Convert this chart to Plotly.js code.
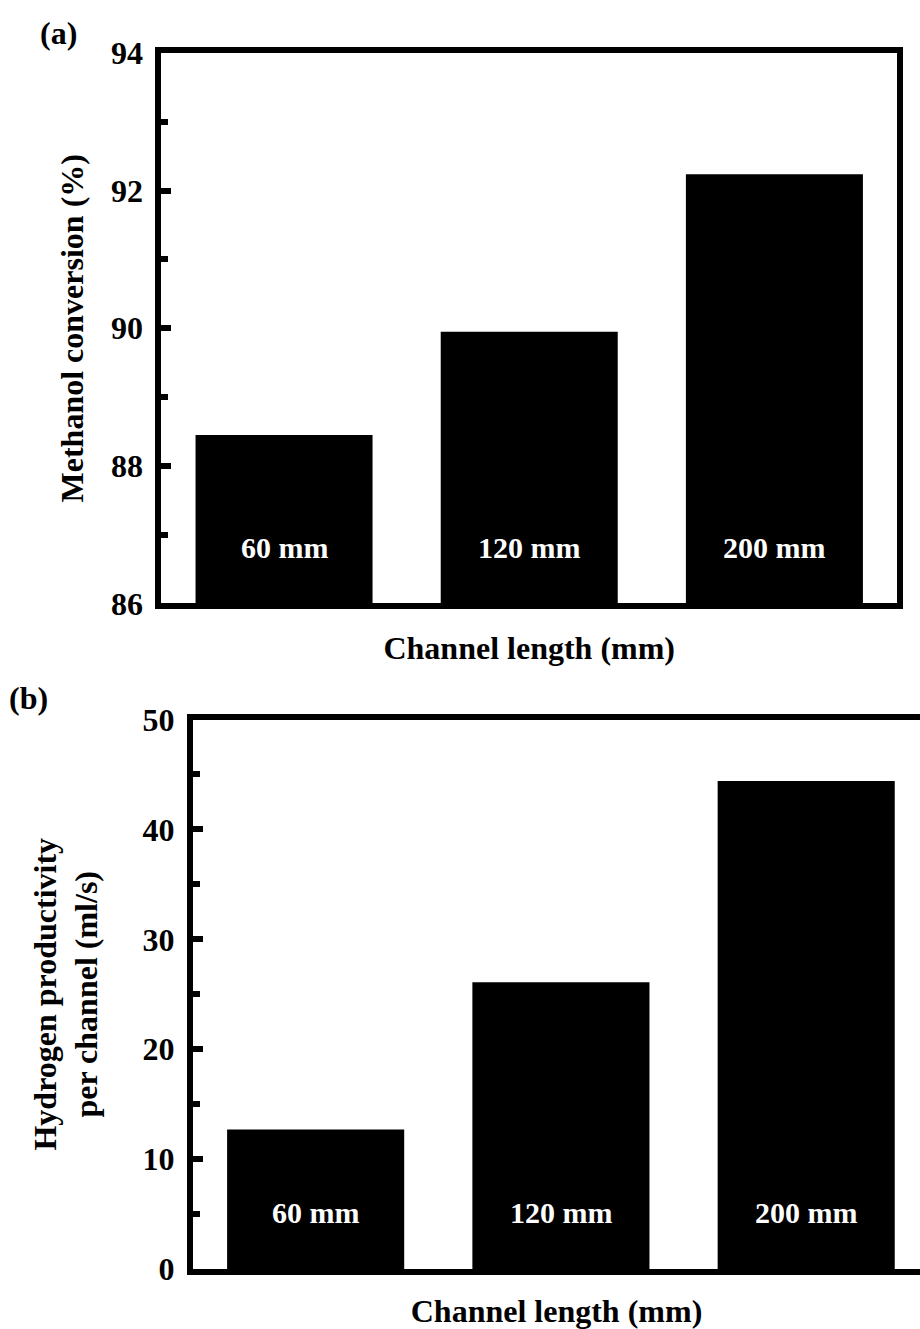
<!DOCTYPE html>
<html>
<head>
<meta charset="utf-8">
<script src="https://cdn.plot.ly/plotly-3.0.1.min.js"></script>
<style>html,body{margin:0;padding:0;background:#fff;overflow:hidden}</style>
</head>
<body>
<div id="chart" style="width:920px;height:1329px"></div>
<script>
// ---- data ----
const channelLengths = ['60 mm', '120 mm', '200 mm'];
const methanolConversion = [88.45, 89.95, 92.24];   // %
const hydrogenProductivity = [12.7, 26.1, 44.4];     // ml/s per channel
const panelLabels = ['(a)', '(b)'];
const xTitle = 'Channel length (mm)';
const yTitleA = 'Methanol conversion (%)';
const yTitleB = 'Hydrogen productivity<br>per channel (ml/s)';

const FONT = 'Liberation Serif, Times New Roman, serif';
const LW = 6;

const traces = [
  {type: 'bar', x: channelLengths, y: methanolConversion, xaxis: 'x', yaxis: 'y',
   marker: {color: '#000', line: {width: 0}}, hoverinfo: 'none', showlegend: false},
  {type: 'bar', x: channelLengths, y: hydrogenProductivity, xaxis: 'x2', yaxis: 'y2',
   marker: {color: '#000', line: {width: 0}}, hoverinfo: 'none', showlegend: false}
];

const tickFont = {family: FONT, size: 32, color: '#000', weight: 'bold'};
const titleFont = {family: FONT, size: 32, color: '#000', weight: 'bold'};

const xBase = {
  type: 'category', showline: true, linecolor: '#000', linewidth: LW, mirror: true,
  showticklabels: false, ticks: '', showgrid: false, zeroline: false, fixedrange: true
};
const yBase = {
  showline: true, linecolor: '#000', linewidth: LW, ticks: 'inside', ticklen: 10,
  tickwidth: LW, tickcolor: '#000', showgrid: false, zeroline: false,
  tickfont: tickFont, ticklabelstandoff: 6, fixedrange: true
};

const annotations = [];
channelLengths.forEach((c) => {
  annotations.push({xref: 'x', yref: 'y domain', x: c, y: 0.101, text: c, showarrow: false,
    font: {family: FONT, size: 30, color: '#fff', weight: 'bold'}, yanchor: 'middle'});
  annotations.push({xref: 'x2', yref: 'y2 domain', x: c, y: 0.103, text: c, showarrow: false,
    font: {family: FONT, size: 30, color: '#fff', weight: 'bold'}, yanchor: 'middle'});
});
annotations.push({xref: 'paper', yref: 'paper', x: 0.0641, y: 0.9752, text: panelLabels[0],
  showarrow: false, font: titleFont, xanchor: 'center', yanchor: 'middle'});
annotations.push({xref: 'paper', yref: 'paper', x: 0.0315, y: 0.4748, text: panelLabels[1],
  showarrow: false, font: titleFont, xanchor: 'center', yanchor: 'middle'});

const layout = {
  width: 920, height: 1329,
  margin: {l: 0, r: 0, t: 0, b: 0},
  paper_bgcolor: '#fff', plot_bgcolor: '#fff',
  bargap: 0.278,
  font: {family: FONT, color: '#000'},
  xaxis: Object.assign({}, xBase, {domain: [0.1755, 0.975], range: [-0.5, 2.5], anchor: 'y',
    title: {text: xTitle, font: titleFont, standoff: 30}}),
  yaxis: Object.assign({}, yBase, {domain: [0.5459, 0.9601], range: [86, 94], dtick: 2,
    mirror: true, anchor: 'x',
    minor: {ticks: 'inside', ticklen: 7, tickwidth: LW, tickcolor: '#000', dtick: 1, showgrid: false},
    title: {text: yTitleA, font: titleFont, standoff: 20}}),
  xaxis2: Object.assign({}, xBase, {domain: [0.2098, 1], range: [-0.5, 2.464], anchor: 'y2',
    title: {text: xTitle, font: titleFont, standoff: 28}}),
  yaxis2: Object.assign({}, yBase, {domain: [0.04515, 0.4586], range: [0, 50], dtick: 10,
    mirror: false, anchor: 'x2',
    minor: {ticks: 'inside', ticklen: 7, tickwidth: LW, tickcolor: '#000', dtick: 5, showgrid: false},
    title: {text: yTitleB, font: titleFont, standoff: 37}}),
  annotations: annotations
};

Plotly.newPlot('chart', traces, layout, {displayModeBar: false, staticPlot: true});
</script>
</body>
</html>
